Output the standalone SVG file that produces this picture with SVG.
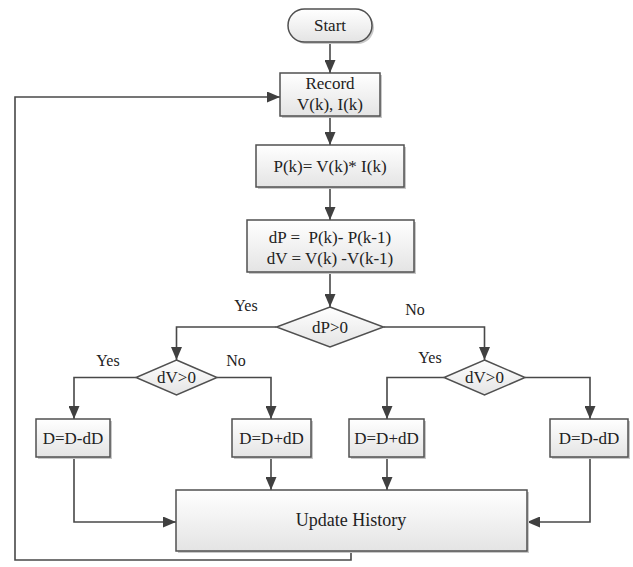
<svg xmlns="http://www.w3.org/2000/svg" width="633" height="567" viewBox="0 0 633 567">
<defs>
<linearGradient id="g" x1="0" y1="0" x2="0" y2="1">
<stop offset="0" stop-color="#ffffff"/>
<stop offset="1" stop-color="#e4e4e4"/>
</linearGradient>
<marker id="ah" markerWidth="13" markerHeight="11" refX="13" refY="5.5" orient="auto" markerUnits="userSpaceOnUse">
<path d="M0,0 L13,5.5 L0,11 Z" fill="#404040"/>
</marker>
<style>
.box{fill:url(#g);stroke:#505050;stroke-width:1.5}
.sh{fill:#c8c8c8;stroke:none}
.t{font-family:"Liberation Serif","Times New Roman",serif;font-size:17px;fill:#222;text-anchor:middle}
.lbl{font-family:"Liberation Serif","Times New Roman",serif;font-size:16px;fill:#222;text-anchor:middle}
.c{fill:none;stroke:#484848;stroke-width:1.6}
.a{marker-end:url(#ah)}
</style>
</defs>
<rect width="633" height="567" fill="#ffffff"/>

<g id="connectors">
<path class="c a" d="M330,42 V73"/>
<path class="c a" d="M330,116 V145"/>
<path class="c a" d="M330,187 V220"/>
<path class="c a" d="M330,272 V307"/>
<path class="c a" d="M276.5,327 H176.5 V360"/>
<path class="c a" d="M383.5,327 H484.5 V360"/>
<path class="c a" d="M136,377.5 H74 V419"/>
<path class="c a" d="M217,377.5 H271 V419"/>
<path class="c a" d="M444,377.5 H387 V419"/>
<path class="c a" d="M525,377.5 H590 V419"/>
<path class="c a" d="M74,457 V522 H176"/>
<path class="c a" d="M271,457 V490"/>
<path class="c a" d="M387,457 V490"/>
<path class="c a" d="M590,457 V522 H527"/>
<path class="c a" d="M351,551 V560 H15 V97 H280"/>
</g>

<g id="start">
<rect class="sh" x="290" y="11" width="84" height="33" rx="16.5"/>
<rect class="box" x="288" y="9" width="84" height="33" rx="16.5"/>
<text class="t" x="330" y="31">Start</text>
</g>

<g id="record">
<rect class="sh" x="282" y="75" width="100" height="43"/>
<rect class="box" x="280" y="73" width="100" height="43"/>
<text class="t" x="330" y="89">Record</text>
<text class="t" x="330" y="110">V(k), I(k)</text>
</g>

<g id="power">
<rect class="sh" x="258" y="147" width="148" height="42"/>
<rect class="box" x="256" y="145" width="148" height="42"/>
<text class="t" x="330" y="172">P(k)= V(k)* I(k)</text>
</g>

<g id="diff">
<rect class="sh" x="249" y="222" width="167" height="52"/>
<rect class="box" x="247" y="220" width="167" height="52"/>
<text class="t" x="330" y="243" xml:space="preserve">dP =  P(k)- P(k-1)</text>
<text class="t" x="330" y="264">dV = V(k) -V(k-1)</text>
</g>

<g id="dp-decision">
<path class="box" d="M330,307 L383.5,327 L330,347 L276.5,327 Z"/>
<text class="t" x="330" y="333">dP&gt;0</text>
<text class="lbl" x="246" y="311">Yes</text>
<text class="lbl" x="415" y="315">No</text>
</g>

<g id="dv-decision-left">
<path class="box" d="M176.5,360 L217,377.5 L176.5,395 L136,377.5 Z"/>
<text class="t" x="176.5" y="383">dV&gt;0</text>
<text class="lbl" x="108" y="366">Yes</text>
<text class="lbl" x="236" y="366">No</text>
</g>

<g id="dv-decision-right">
<path class="box" d="M484.5,360 L525,377.5 L484.5,395 L444,377.5 Z"/>
<text class="t" x="484.5" y="383">dV&gt;0</text>
<text class="lbl" x="430" y="363">Yes</text>
</g>

<g id="dec-left">
<rect class="sh" x="38" y="421" width="74" height="38"/>
<rect class="box" x="36" y="419" width="74" height="38"/>
<text class="t" x="73" y="444">D=D-dD</text>
</g>

<g id="inc-left">
<rect class="sh" x="234" y="421" width="79" height="38"/>
<rect class="box" x="232" y="419" width="79" height="38"/>
<text class="t" x="271.5" y="444">D=D+dD</text>
</g>

<g id="inc-right">
<rect class="sh" x="351" y="421" width="75" height="38"/>
<rect class="box" x="349" y="419" width="75" height="38"/>
<text class="t" x="386.5" y="444">D=D+dD</text>
</g>

<g id="dec-right">
<rect class="sh" x="552" y="421" width="78" height="38"/>
<rect class="box" x="550" y="419" width="78" height="38"/>
<text class="t" x="589" y="444">D=D-dD</text>
</g>

<g id="update">
<rect class="sh" x="178" y="492" width="351" height="61"/>
<rect class="box" x="176" y="490" width="351" height="61"/>
<text class="t" x="351" y="526" style="font-size:18px">Update History</text>
</g>
</svg>
